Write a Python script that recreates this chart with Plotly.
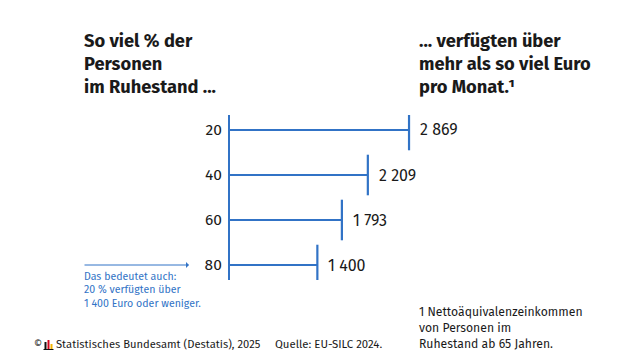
import plotly.graph_objects as go

categories = ["20", "40", "60", "80"]
values = [2869, 2209, 1793, 1400]
value_labels = ["2 869", "2 209", "1 793", "1 400"]

BLUE = "#3173c6"
TXT = "#1a1a1a"
FONT = "Fira Sans, Noto Sans, Open Sans, sans-serif"

OFF = 8  # page body margin of the browser
W, H = 640 - OFF, 360 - OFF
# target plot area on screen: x 230..620, y 115..280
L, R, T, B = 230 - OFF, 20, 115 - OFF, 80

fig = go.Figure()

# horizontal bars as lines from 0 to value
xs, ys = [], []
for c, v in zip(categories, values):
    xs += [0, v, None]
    ys += [c, c, None]
fig.add_trace(go.Scatter(x=xs, y=ys, mode="lines",
                         line=dict(color=BLUE, width=2.2),
                         hoverinfo="skip", showlegend=False))
# end caps
fig.add_trace(go.Scatter(x=values, y=categories, mode="markers",
                         marker=dict(symbol="line-ns", size=29,
                                     line=dict(color=BLUE, width=2.2)),
                         hoverinfo="skip", showlegend=False))

for i, (v, lab) in enumerate(zip(values, value_labels)):
    fig.add_annotation(x=v, y=i, text=lab, showarrow=False, xanchor="left",
                       xshift=9, font=dict(family=FONT, size=16, color=TXT))

fig.update_xaxes(range=[0, 6250], visible=False, fixedrange=True)
fig.update_yaxes(type="category", categoryorder="array", categoryarray=categories,
                 range=[3.333, -0.333], showline=True, linecolor=BLUE, linewidth=2.2,
                 showgrid=False, zeroline=False, ticks="", ticklabelstandoff=3,
                 tickfont=dict(family=FONT, size=15.5, color=TXT), fixedrange=True)

# screen coords -> paper coords
def px(x): return (x - OFF - L) / (W - L - R)
def py(y): return 1 - (y - OFF - T) / (H - T - B)

def ptext(x, y, text, size, color=TXT, bold=False, anchor="left", yanchor="middle"):
    fig.add_annotation(xref="paper", yref="paper", x=px(x), y=py(y),
                       text=f"<b>{text}</b>" if bold else text, showarrow=False,
                       xanchor=anchor, yanchor=yanchor, align="left",
                       font=dict(family=FONT, size=size, color=color))

for k, line in enumerate(["So viel % der", "Personen", "im Ruhestand ..."]):
    ptext(82, 41 + 23 * k, line, 18.3, bold=True)
for k, line in enumerate(["... verfügten über", "mehr als so viel Euro", "pro Monat.¹"]):
    ptext(417, 41 + 23 * k, line, 18.3, bold=True)

for k, line in enumerate(["Das bedeutet auch:", "20 % verfügten über", "1 400 Euro oder weniger."]):
    ptext(82, 276 + 13.5 * k, line, 10.6, color=BLUE)

# arrow pointing at the 80 label
fig.add_annotation(xref="paper", yref="y", x=px(189), y=3,
                   ax=-106, ay=0, axref="pixel", ayref="pixel",
                   text="", showarrow=True, arrowhead=1, arrowsize=1, arrowwidth=1,
                   arrowcolor=BLUE, standoff=0, startstandoff=0)

for k, line in enumerate(["1 Nettoäquivalenzeinkommen", "von Personen im", "Ruhestand ab 65 Jahren."]):
    ptext(417, 312 + 16 * k, line, 12.2)

ptext(54, 344, "Statistisches Bundesamt (Destatis), 2025", 11.2)
ptext(32, 344, "©", 10)
ptext(273, 344, "Quelle: EU-SILC 2024.", 11.4)

# small logo bars
for x0, h, col in [(44.5, 7, "#111111"), (47.5, 9, "#d0021b"), (50.5, 5, "#f5b400")]:
    fig.add_shape(type="rect", xref="paper", yref="paper",
                  x0=px(x0), x1=px(x0 + 2), y0=py(349), y1=py(349 - h),
                  fillcolor=col, line=dict(width=0))
fig.add_shape(type="line", xref="paper", yref="paper", x0=px(43.5), x1=px(53.5),
              y0=py(349.5), y1=py(349.5), line=dict(color="#111111", width=1))

fig.update_layout(width=W, height=H, margin=dict(l=L, r=R, t=T, b=B),
                  plot_bgcolor="white", paper_bgcolor="white", showlegend=False,
                  font=dict(family=FONT))

fig.write_html("out.html")
